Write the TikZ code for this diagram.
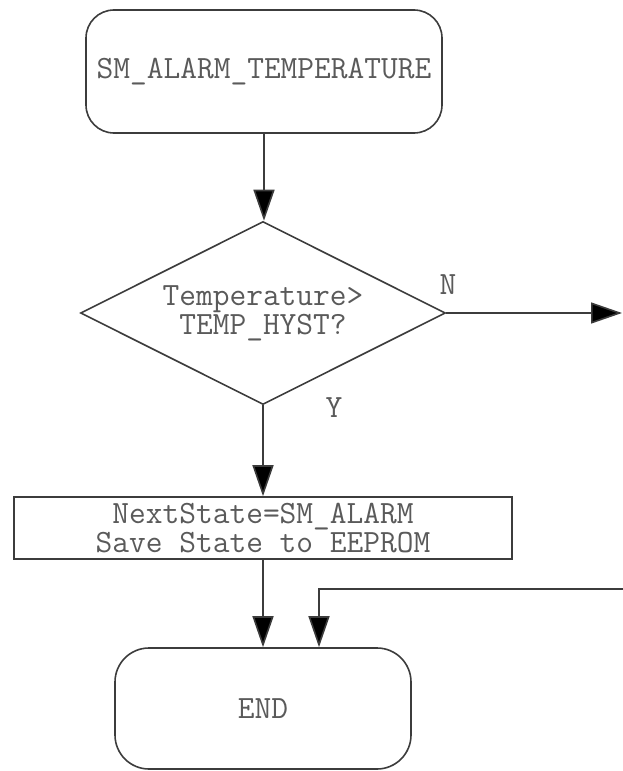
\documentclass[tikz,border=0pt]{standalone}
\usepackage{fontspec}
\usetikzlibrary{shapes.geometric,arrows.meta}
\definecolor{linecol}{HTML}{3C3C3C}
\definecolor{textcol}{HTML}{5A5A5A}
\begin{document}
\begin{tikzpicture}[x=1pt,y=-1pt,
  every node/.style={font=\ttfamily\fontsize{32.5}{29}\selectfont, text=textcol},
  startbox/.style={draw=linecol, line width=1.6pt, rounded corners=28pt, inner sep=0pt},
  endbox/.style={draw=linecol, line width=1.6pt, rounded corners=34pt, inner sep=0pt},
  procbox/.style={draw=linecol, line width=1.6pt, inner sep=0pt, align=center},
  decbox/.style={draw=linecol, line width=1.6pt, diamond, aspect=2, inner sep=0pt, align=center},
  arr/.style={draw=linecol, line width=1.6pt, -{Triangle[length=31pt,width=21pt,fill=black]}},
  lbl/.style={inner sep=0pt}]
\useasboundingbox (0,0) rectangle (623,771);
\node[startbox, minimum width=356pt, minimum height=123pt] (start) at (264,71.5) {SM\_ALARM\_TEMPERATURE};
\node[decbox, minimum width=365pt, minimum height=183pt] (dec) at (263,313) {Temperature>\\TEMP\_HYST?};
\node[procbox, minimum width=498pt, minimum height=62pt] (proc) at (263,528) {NextState=SM\_ALARM\\Save State to EEPROM};
\node[endbox, minimum width=296pt, minimum height=121pt] (end) at (263,708.5) {END};
\node[lbl] (nlab) at (448,285) {N};
\node[lbl] (ylab) at (334,408) {Y};
\coordinate (rexit) at (622,313);
\coordinate (rentry) at (625,589);
\draw[arr] (start.south) -- (start.south |- dec.north);
\draw[arr] (dec.east) -- (rexit);
\draw[arr] (dec.south) -- (dec.south |- proc.north);
\draw[arr] (proc.south) -- (proc.south |- end.north);
\draw[arr] (rentry) -| ([xshift=56pt]end.north);
\end{tikzpicture}
\end{document}
